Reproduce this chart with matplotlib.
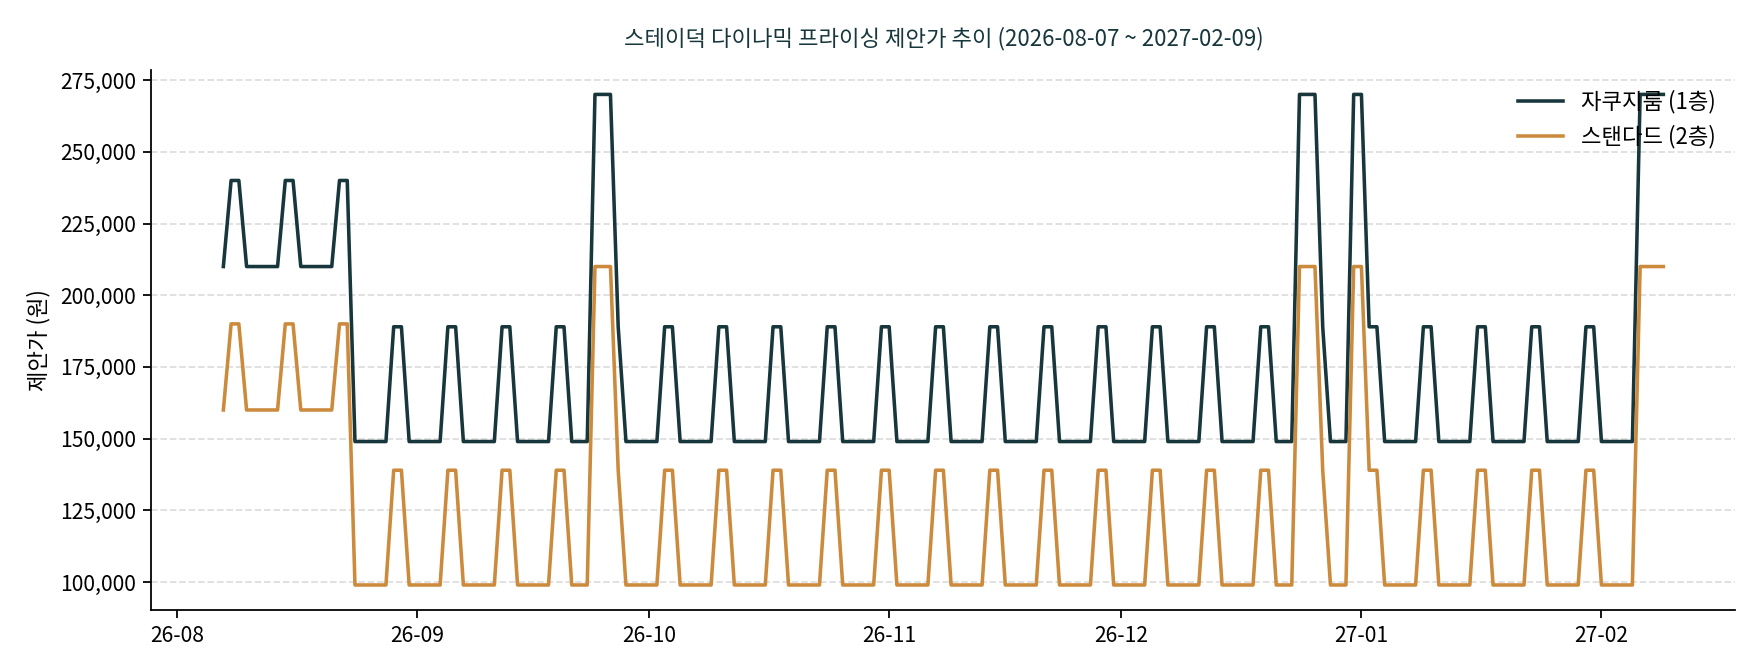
import numpy as np
import pandas as pd
import matplotlib
matplotlib.use("Agg")
from matplotlib import pyplot as plt
import matplotlib.dates as mdates
from matplotlib.ticker import FuncFormatter

plt.rcParams['font.family'] = ['Noto Sans CJK KR', 'DejaVu Sans']

start = "2026-08-07"
end = "2027-02-09"

# 자쿠지룸 (1층), 1박 제안가 (원)
jacuzzi = [
    210000, 240000, 240000,                                          # 08-07
    210000, 210000, 210000, 210000, 210000, 240000, 240000,          # 08-10
    210000, 210000, 210000, 210000, 210000, 240000, 240000,          # 08-17
    149000, 149000, 149000, 149000, 149000, 189000, 189000,          # 08-24
    149000, 149000, 149000, 149000, 149000, 189000, 189000,          # 08-31
    149000, 149000, 149000, 149000, 149000, 189000, 189000,          # 09-07
    149000, 149000, 149000, 149000, 149000, 189000, 189000,          # 09-14
    149000, 149000, 149000, 270000, 270000, 270000, 189000,          # 09-21 추석
    149000, 149000, 149000, 149000, 149000, 189000, 189000,          # 09-28
    149000, 149000, 149000, 149000, 149000, 189000, 189000,          # 10-05
    149000, 149000, 149000, 149000, 149000, 189000, 189000,          # 10-12
    149000, 149000, 149000, 149000, 149000, 189000, 189000,          # 10-19
    149000, 149000, 149000, 149000, 149000, 189000, 189000,          # 10-26
    149000, 149000, 149000, 149000, 149000, 189000, 189000,          # 11-02
    149000, 149000, 149000, 149000, 149000, 189000, 189000,          # 11-09
    149000, 149000, 149000, 149000, 149000, 189000, 189000,          # 11-16
    149000, 149000, 149000, 149000, 149000, 189000, 189000,          # 11-23
    149000, 149000, 149000, 149000, 149000, 189000, 189000,          # 11-30
    149000, 149000, 149000, 149000, 149000, 189000, 189000,          # 12-07
    149000, 149000, 149000, 149000, 149000, 189000, 189000,          # 12-14
    149000, 149000, 149000, 270000, 270000, 270000, 189000,          # 12-21 성탄
    149000, 149000, 149000, 270000, 270000, 189000, 189000,          # 12-28 신정
    149000, 149000, 149000, 149000, 149000, 189000, 189000,          # 01-04
    149000, 149000, 149000, 149000, 149000, 189000, 189000,          # 01-11
    149000, 149000, 149000, 149000, 149000, 189000, 189000,          # 01-18
    149000, 149000, 149000, 149000, 149000, 189000, 189000,          # 01-25
    149000, 149000, 149000, 149000, 149000, 270000, 270000,          # 02-01 설
    270000, 270000,                                                  # 02-08
]

# 스탠다드 (2층)
standard = [
    160000, 190000, 190000,
    160000, 160000, 160000, 160000, 160000, 190000, 190000,
    160000, 160000, 160000, 160000, 160000, 190000, 190000,
    99000, 99000, 99000, 99000, 99000, 139000, 139000,
    99000, 99000, 99000, 99000, 99000, 139000, 139000,
    99000, 99000, 99000, 99000, 99000, 139000, 139000,
    99000, 99000, 99000, 99000, 99000, 139000, 139000,
    99000, 99000, 99000, 210000, 210000, 210000, 139000,
    99000, 99000, 99000, 99000, 99000, 139000, 139000,
    99000, 99000, 99000, 99000, 99000, 139000, 139000,
    99000, 99000, 99000, 99000, 99000, 139000, 139000,
    99000, 99000, 99000, 99000, 99000, 139000, 139000,
    99000, 99000, 99000, 99000, 99000, 139000, 139000,
    99000, 99000, 99000, 99000, 99000, 139000, 139000,
    99000, 99000, 99000, 99000, 99000, 139000, 139000,
    99000, 99000, 99000, 99000, 99000, 139000, 139000,
    99000, 99000, 99000, 99000, 99000, 139000, 139000,
    99000, 99000, 99000, 99000, 99000, 139000, 139000,
    99000, 99000, 99000, 99000, 99000, 139000, 139000,
    99000, 99000, 99000, 99000, 99000, 139000, 139000,
    99000, 99000, 99000, 210000, 210000, 210000, 139000,
    99000, 99000, 99000, 210000, 210000, 139000, 139000,
    99000, 99000, 99000, 99000, 99000, 139000, 139000,
    99000, 99000, 99000, 99000, 99000, 139000, 139000,
    99000, 99000, 99000, 99000, 99000, 139000, 139000,
    99000, 99000, 99000, 99000, 99000, 139000, 139000,
    99000, 99000, 99000, 99000, 99000, 210000, 210000,
    210000, 210000,
]

dates = pd.date_range(start, end, freq="D")

dark = "#17373d"
gold = "#cc8a3c"

fig, ax = plt.subplots(figsize=(11, 4.2), dpi=160)
ax.plot(dates, jacuzzi, color=dark, lw=1.6, label="자쿠지룸 (1층)")
ax.plot(dates, standard, color=gold, lw=1.6, label="스탠다드 (2층)")

ax.set_title(f"스테이덕 다이나믹 프라이싱 제안가 추이 ({start} ~ {end})",
             fontsize=10, color=dark, pad=11)
ax.set_ylabel("제안가 (원)", fontsize=10)
ax.yaxis.set_major_formatter(FuncFormatter(lambda v, p: f"{v:,.0f}"))
ax.xaxis.set_major_locator(mdates.MonthLocator())
ax.xaxis.set_major_formatter(mdates.DateFormatter("%y-%m"))
ax.tick_params(labelsize=9.5)
ax.grid(axis="y", ls="--", color="#dedede", lw=0.8)
ax.set_axisbelow(True)
for s in ["top", "right"]:
    ax.spines[s].set_visible(False)
ax.legend(loc="upper right", frameon=False, fontsize=10)

fig.subplots_adjust(left=0.086, right=0.986, top=0.896, bottom=0.093)
plt.savefig("out.png")
